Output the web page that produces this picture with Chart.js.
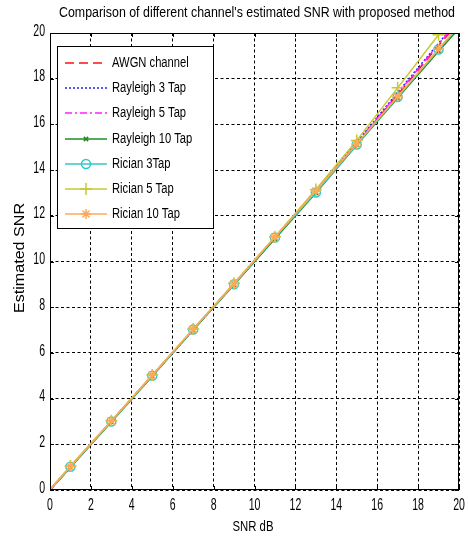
<!DOCTYPE html>
<html>
<head>
<meta charset="utf-8">
<script src="https://cdn.jsdelivr.net/npm/chart.js@4.4.0/dist/chart.umd.min.js"></script>
<style>
  html, body { margin: 0; padding: 0; background: #fff; }
</style>
</head>
<body>
<canvas id="snr" width="468" height="540"></canvas>
<script>
// SNR sweep (dB); the end points sit just outside the 0..20 window
const snrDb = [-1, 1, 3, 5, 7, 9, 11, 13, 15, 17, 19, 21];

const awgn       = [-1.0, 1.02, 3.00, 5.01, 7.02, 9.02, 11.03, 13.07, 15.15, 17.30, 19.45, 21.5];
const rayleigh3  = [-1.0, 1.03, 3.02, 5.00, 7.00, 9.03, 11.05, 13.10, 15.22, 17.40, 19.55, 21.6];
const rayleigh5  = [-1.0, 0.98, 3.01, 5.02, 7.01, 9.00, 11.02, 13.05, 15.18, 17.35, 19.50, 21.6];
const rayleigh10 = [-1.0, 1.00, 2.98, 4.98, 7.00, 8.98, 11.00, 13.00, 15.10, 17.15, 19.20, 21.2];
const rician3    = [-1.0, 1.02, 3.00, 5.00, 7.02, 9.00, 11.05, 13.02, 15.12, 17.20, 19.28, 21.3];
const rician5    = [-1.0, 1.05, 3.03, 5.03, 7.05, 9.05, 11.08, 13.15, 15.30, 17.60, 19.92, 22.2];
const rician10   = [-1.0, 1.03, 3.02, 5.02, 7.03, 9.03, 11.07, 13.08, 15.15, 17.22, 19.30, 21.35];

const seriesNames = [
  'AWGN channel', 'Rayleigh 3 Tap', 'Rayleigh 5 Tap', 'Rayleigh 10 Tap',
  'Rician 3Tap', 'Rician 5 Tap', 'Rician 10 Tap'
];
const seriesValues = [awgn, rayleigh3, rayleigh5, rayleigh10, rician3, rician5, rician10];

const tickValues = [0, 2, 4, 6, 8, 10, 12, 14, 16, 18, 20];
const axisMin = 0;
const axisMax = 20;

const FONT = "'Liberation Sans', Arial, sans-serif";

const styles = [
  { color: '#ff1010', dash: [9, 5],       marker: false,      radius: 0 },
  { color: '#2020ff', dash: [2, 2],       marker: false,      radius: 0 },
  { color: '#ff20ff', dash: [7, 3, 2, 3], marker: false,      radius: 0 },
  { color: '#208c20', dash: [],           marker: 'crossRot', radius: 3 },
  { color: '#30c8c8', dash: [],           marker: 'circle',   radius: 4.5 },
  { color: '#c8c830', dash: [],           marker: 'cross',    radius: 6 },
  { color: '#ffa858', dash: [],           marker: 'star',     radius: 5 }
];

const datasets = seriesValues.map((vals, i) => {
  const s = styles[i];
  return {
    label: seriesNames[i],
    data: snrDb.map((x, k) => ({ x, y: vals[k] })),
    borderColor: s.color,
    backgroundColor: 'transparent',
    borderWidth: 1.5,
    borderDash: s.dash,
    pointStyle: s.marker || 'circle',
    pointRadius: s.radius,
    pointBorderColor: s.color,
    pointBackgroundColor: 'transparent',
    pointBorderWidth: 1.5,
    order: seriesNames.length - i,
    tension: 0
  };
});

// text squeezed horizontally, like the narrow face of the original figure
function narrowText(ctx, text, x, y, size, sx, align) {
  ctx.save();
  ctx.font = size + 'px ' + FONT;
  ctx.textBaseline = 'middle';
  ctx.textAlign = 'left';
  const w = ctx.measureText(text).width * sx;
  let left = x;
  if (align === 'center') left = x - w / 2;
  if (align === 'right') left = x - w;
  ctx.translate(left, y);
  ctx.scale(sx, 1);
  ctx.fillText(text, 0, 0);
  ctx.restore();
}

function fitText(ctx, text, x, y, size, width) {
  ctx.save();
  ctx.font = size + 'px ' + FONT;
  const sx = width / ctx.measureText(text).width;
  ctx.restore();
  narrowText(ctx, text, x, y, size, sx, 'center');
}

// frame, inward ticks, tick labels, titles and the boxed legend
const matlabLook = {
  id: 'matlabLook',
  afterDatasetsDraw(chart) {
    const { ctx, chartArea: a, scales } = chart;
    ctx.save();
    ctx.strokeStyle = '#000';
    ctx.lineWidth = 1;
    ctx.setLineDash([]);
    ctx.strokeRect(a.left + 0.5, a.top + 0.5, a.right - a.left - 1, a.bottom - a.top - 1);

    const tl = 4;
    ctx.beginPath();
    tickValues.forEach(v => {
      const px = Math.round(scales.x.getPixelForValue(v)) + 0.5;
      ctx.moveTo(px, a.bottom); ctx.lineTo(px, a.bottom - tl);
      ctx.moveTo(px, a.top); ctx.lineTo(px, a.top + tl);
      const py = Math.round(scales.y.getPixelForValue(v)) + 0.5;
      ctx.moveTo(a.left, py); ctx.lineTo(a.left + tl, py);
      ctx.moveTo(a.right, py); ctx.lineTo(a.right - tl, py);
    });
    ctx.stroke();
    ctx.restore();
  },
  afterDraw(chart) {
    const { ctx, scales } = chart;
    ctx.save();
    ctx.fillStyle = '#000';

    tickValues.forEach(v => {
      narrowText(ctx, String(v), scales.x.getPixelForValue(v), 505, 17, 0.62, 'center');
      narrowText(ctx, String(v), 45, scales.y.getPixelForValue(v) - 2, 17, 0.62, 'right');
    });

    fitText(ctx, "Comparison of different channel's estimated SNR with proposed method", 257, 13, 14, 396);
    fitText(ctx, 'SNR dB', 253, 527, 15, 41);
    ctx.save();
    ctx.translate(20, 258);
    ctx.rotate(-Math.PI / 2);
    fitText(ctx, 'Estimated SNR', 0, 0, 14, 110);
    ctx.restore();
    ctx.restore();

    // legend box
    const bx = 57, by = 46, bw = 156, bh = 182;
    ctx.save();
    ctx.fillStyle = '#fff';
    ctx.fillRect(bx, by, bw, bh);
    ctx.strokeStyle = '#000';
    ctx.lineWidth = 1;
    ctx.strokeRect(bx + 0.5, by + 0.5, bw, bh);
    chart.data.datasets.forEach((ds, i) => {
      const y = Math.round(by + 17 + i * 25.2);
      ctx.strokeStyle = ds.borderColor;
      ctx.lineWidth = 1.5;
      ctx.setLineDash(ds.borderDash);
      ctx.beginPath();
      ctx.moveTo(65, y); ctx.lineTo(107, y);
      ctx.stroke();
      ctx.setLineDash([]);
      if (ds.pointRadius > 0) {
        ctx.fillStyle = 'rgba(0,0,0,0)';
        Chart.helpers.drawPoint(ctx, {
          pointStyle: ds.pointStyle,
          radius: ds.pointRadius,
          borderWidth: 1.5,
          rotation: 0
        }, 86, y);
      }
      ctx.fillStyle = '#000';
      narrowText(ctx, ds.label, 112, y, 14, 0.8, 'left');
    });
    ctx.restore();
  }
};

const gridOpts = {
  color: '#000',
  lineWidth: 1,
  drawTicks: false
};

new Chart(document.getElementById('snr'), {
  type: 'line',
  data: { datasets },
  options: {
    responsive: false,
    animation: false,
    devicePixelRatio: 1,
    layout: { padding: { top: 33, right: 9, left: 0, bottom: 0 } },
    plugins: {
      legend: { display: false },
      title: { display: false },
      tooltip: { enabled: false }
    },
    scales: {
      x: {
        type: 'linear',
        min: axisMin,
        max: axisMax,
        ticks: { stepSize: 2, display: false },
        grid: gridOpts,
        border: { display: false, dash: [3, 2.5] },
        afterFit(scale) { scale.height = 50; }
      },
      y: {
        type: 'linear',
        min: axisMin,
        max: axisMax,
        ticks: { stepSize: 2, display: false },
        grid: gridOpts,
        border: { display: false, dash: [3, 2.5] },
        afterFit(scale) { scale.width = 50; }
      }
    }
  },
  plugins: [matlabLook]
});
</script>
</body>
</html>
